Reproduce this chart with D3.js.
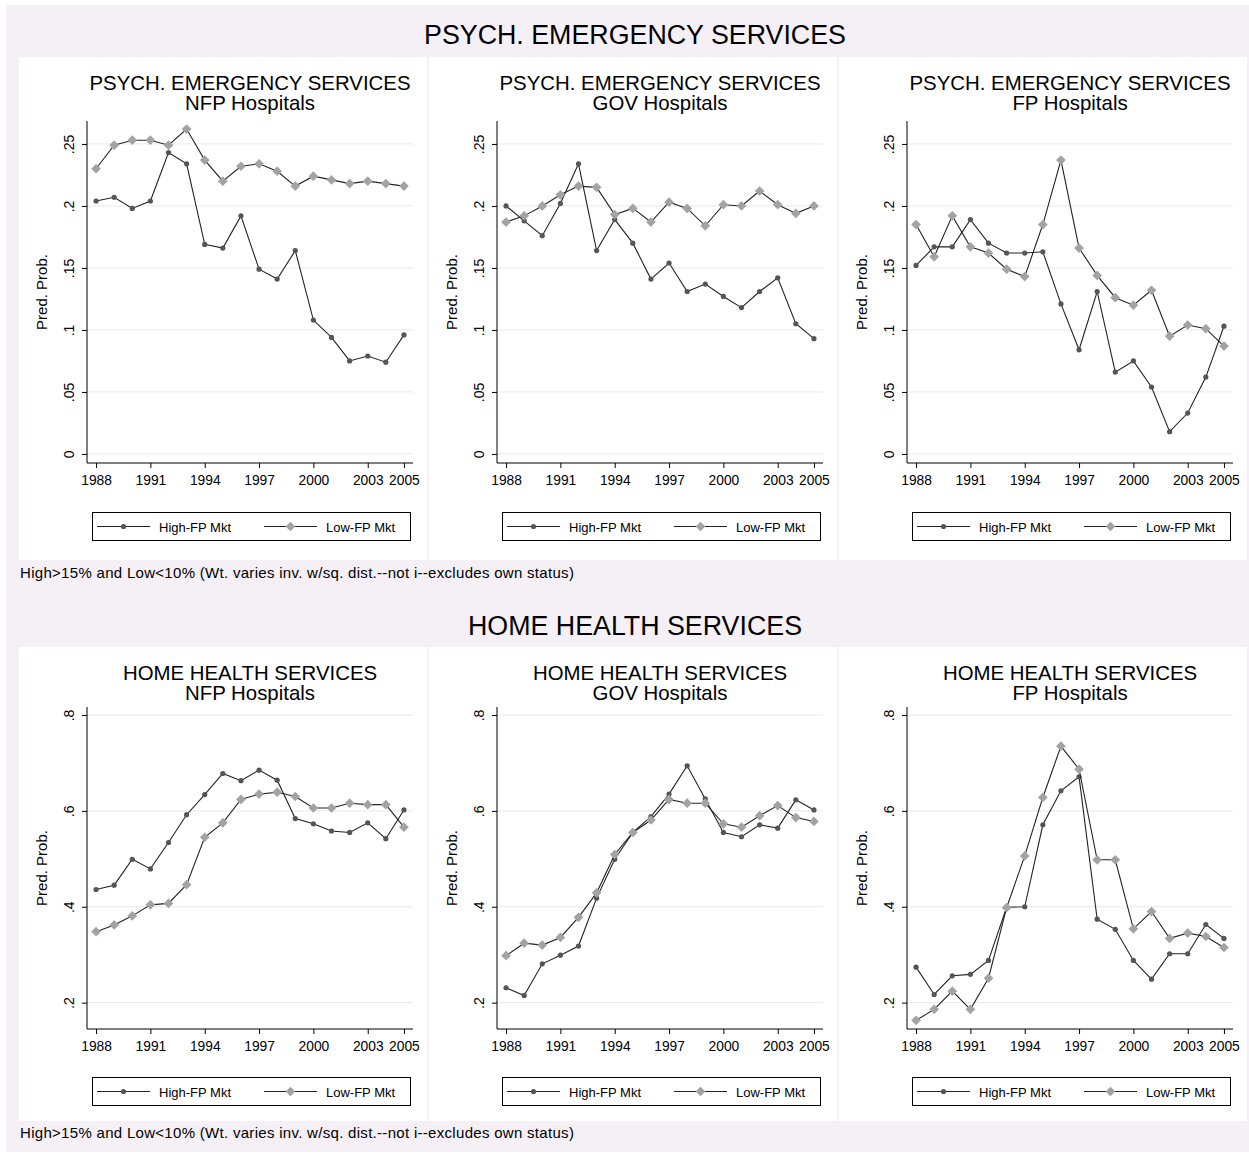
<!DOCTYPE html>
<html>
<head>
<meta charset="utf-8">
<script src="https://cdn.jsdelivr.net/npm/d3@7"></script>
<style>
  body { margin: 0; background: #fff; }
  text { font-family: "Liberation Sans", Arial, sans-serif; fill: #000; }
</style>
</head>
<body>
<svg id="chart" width="1249" height="1154"></svg>
<script>
// Data
var years = [1988, 1989, 1990, 1991, 1992, 1993, 1994, 1995, 1996, 1997, 1998, 1999, 2000, 2001, 2002, 2003, 2004, 2005];
var xTickYears = [1988, 1991, 1994, 1997, 2000, 2003, 2005];
var seriesNames = ["High-FP Mkt", "Low-FP Mkt"];
var hospitalTypes = ["NFP Hospitals", "GOV Hospitals", "FP Hospitals"];
var note = "High>15% and Low<10% (Wt. varies inv. w/sq. dist.--not i--excludes own status)";

var psychTicks = [0, 0.05, 0.1, 0.15, 0.2, 0.25];
var psychTickLabels = ["0", ".05", ".1", ".15", ".2", ".25"];
var homeTicks = [0.2, 0.4, 0.6, 0.8];
var homeTickLabels = [".2", ".4", ".6", ".8"];

var psychNfpHigh = [0.204, 0.207, 0.198, 0.204, 0.243, 0.234, 0.169, 0.166, 0.192, 0.149, 0.141, 0.164, 0.108, 0.094, 0.075, 0.079, 0.074, 0.096];
var psychNfpLow  = [0.230, 0.249, 0.253, 0.253, 0.249, 0.262, 0.237, 0.220, 0.232, 0.234, 0.228, 0.216, 0.224, 0.221, 0.218, 0.220, 0.218, 0.216];
var psychGovHigh = [0.200, 0.188, 0.176, 0.202, 0.234, 0.164, 0.189, 0.170, 0.141, 0.154, 0.131, 0.137, 0.127, 0.118, 0.131, 0.142, 0.105, 0.093];
var psychGovLow  = [0.187, 0.192, 0.200, 0.209, 0.216, 0.215, 0.193, 0.198, 0.187, 0.203, 0.198, 0.184, 0.201, 0.200, 0.212, 0.201, 0.194, 0.200];
var psychFpHigh  = [0.152, 0.167, 0.167, 0.189, 0.170, 0.162, 0.162, 0.163, 0.121, 0.084, 0.131, 0.066, 0.075, 0.054, 0.018, 0.033, 0.062, 0.103];
var psychFpLow   = [0.185, 0.159, 0.192, 0.167, 0.162, 0.149, 0.143, 0.185, 0.237, 0.166, 0.144, 0.126, 0.120, 0.132, 0.095, 0.104, 0.101, 0.087];

var homeNfpHigh = [0.436, 0.445, 0.499, 0.479, 0.534, 0.592, 0.634, 0.678, 0.663, 0.685, 0.664, 0.584, 0.573, 0.558, 0.555, 0.575, 0.542, 0.602];
var homeNfpLow  = [0.348, 0.362, 0.381, 0.404, 0.407, 0.446, 0.545, 0.575, 0.624, 0.635, 0.639, 0.630, 0.606, 0.606, 0.616, 0.613, 0.613, 0.566];
var homeGovHigh = [0.231, 0.215, 0.281, 0.299, 0.318, 0.418, 0.499, 0.555, 0.588, 0.635, 0.694, 0.625, 0.555, 0.546, 0.571, 0.564, 0.623, 0.602];
var homeGovLow  = [0.298, 0.324, 0.320, 0.336, 0.378, 0.429, 0.509, 0.555, 0.581, 0.624, 0.616, 0.616, 0.573, 0.566, 0.590, 0.611, 0.586, 0.578];
var homeFpHigh  = [0.274, 0.217, 0.256, 0.259, 0.288, 0.399, 0.400, 0.571, 0.642, 0.671, 0.374, 0.353, 0.288, 0.249, 0.302, 0.302, 0.363, 0.334];
var homeFpLow   = [0.163, 0.186, 0.224, 0.186, 0.251, 0.398, 0.506, 0.628, 0.735, 0.687, 0.498, 0.498, 0.354, 0.390, 0.334, 0.345, 0.338, 0.315];

// Layout
var svg = d3.select("#chart");
var panelX = [19, 429, 839], panelW = 408;
var plotLeft = 68, plotRight = 394;
var bg = "#f4f0f5";

var sections = [
    { title: "PSYCH. EMERGENCY SERVICES", top: 57, height: 503, titleY: 35, noteY: 578,
      plotTop: 64, plotBottom: 406, legendTop: 455, domain: [-0.0073, 0.2685],
      ticks: psychTicks, tickLabels: psychTickLabels,
      data: [[psychNfpHigh, psychNfpLow], [psychGovHigh, psychGovLow], [psychFpHigh, psychFpLow]] },
    { title: "HOME HEALTH SERVICES", top: 647, height: 474, titleY: 626, noteY: 1138,
      plotTop: 60, plotBottom: 382, legendTop: 430, domain: [0.145, 0.8167],
      ticks: homeTicks, tickLabels: homeTickLabels,
      data: [[homeNfpHigh, homeNfpLow], [homeGovHigh, homeGovLow], [homeFpHigh, homeFpLow]] }
];

svg.append("rect").attr("x", 6).attr("y", 5).attr("width", 1243).attr("height", 1147).attr("fill", bg);

var x = d3.scaleLinear().domain([1987.5, 2005.5]).range([plotLeft, plotRight]);
var diamond = d3.symbol().type(d3.symbolDiamond2).size(60);

function drawMarkers(g, pts, kind) {
    if (kind == 0) {
        g.selectAll("circle.m").data(pts).enter().append("circle")
            .attr("class", "m")
            .attr("cx", function (d) { return d[0]; })
            .attr("cy", function (d) { return d[1]; })
            .attr("r", 2.6)
            .attr("fill", "#555");
    } else {
        g.selectAll("path.m").data(pts).enter().append("path")
            .attr("class", "m")
            .attr("d", diamond)
            .attr("transform", function (d) { return "translate(" + d[0] + "," + d[1] + ")"; })
            .attr("fill", "#a3a3a3");
    }
}

sections.forEach(function (sec) {
    svg.append("text").attr("x", 635).attr("y", sec.titleY + 9)
        .attr("text-anchor", "middle").style("font-size", "26.8px").text(sec.title);
    svg.append("text").attr("x", 20).attr("y", sec.noteY)
        .style("font-size", "15px").style("letter-spacing", "0.3px").text(note);

    var y = d3.scaleLinear().domain(sec.domain).range([sec.plotBottom, sec.plotTop]);

    sec.data.forEach(function (pair, pi) {
        var g = svg.append("g").attr("transform", "translate(" + panelX[pi] + "," + sec.top + ")");
        g.append("rect").attr("width", panelW).attr("height", sec.height).attr("fill", "#fff");

        // Panel title
        var cx = (plotLeft + plotRight) / 2;
        g.append("text").attr("x", cx).attr("y", 33).attr("text-anchor", "middle")
            .style("font-size", "20.4px").text(sec.title);
        g.append("text").attr("x", cx).attr("y", 53).attr("text-anchor", "middle")
            .style("font-size", "20.4px").text(hospitalTypes[pi]);

        // Grid
        g.selectAll("line.grid").data(sec.ticks).enter().append("line")
            .attr("class", "grid")
            .attr("x1", plotLeft).attr("x2", plotRight)
            .attr("y1", function (d) { return y(d); }).attr("y2", function (d) { return y(d); })
            .attr("stroke", "#e8e8e8").attr("stroke-width", 1);

        // Y axis
        var yAxis = d3.axisLeft(y).tickValues(sec.ticks).tickSize(5)
            .tickFormat(function (d, i) { return sec.tickLabels[i]; });
        var ya = g.append("g").attr("transform", "translate(" + plotLeft + ",0)").call(yAxis);
        ya.select(".domain").attr("d", "M0," + sec.plotTop + "V" + sec.plotBottom).attr("stroke", "#000");
        ya.selectAll(".tick line").attr("stroke", "#000");
        ya.selectAll(".tick text")
            .attr("x", null).attr("dy", null)
            .attr("transform", "translate(-13,0) rotate(-90)")
            .attr("text-anchor", "middle")
            .style("font-size", "14px").style("font-family", null);

        g.append("text")
            .attr("transform", "translate(" + (plotLeft - 40) + "," + ((sec.plotTop + sec.plotBottom) / 2) + ") rotate(-90)")
            .attr("text-anchor", "middle").style("font-size", "15px").text("Pred. Prob.");

        // X axis
        var xAxis = d3.axisBottom(x).tickValues(xTickYears).tickSize(5).tickFormat(d3.format("d"));
        var xa = g.append("g").attr("transform", "translate(0," + sec.plotBottom + ")").call(xAxis);
        xa.select(".domain").attr("d", "M" + plotLeft + ",0H" + plotRight).attr("stroke", "#000");
        xa.selectAll(".tick line").attr("stroke", "#000");
        xa.selectAll(".tick text").attr("y", 12).attr("dy", "0.71em")
            .style("font-size", "13.8px").style("font-family", null);

        // Series
        var line = d3.line()
            .x(function (d, i) { return x(years[i]); })
            .y(function (d) { return y(d); });
        pair.forEach(function (vals, si) {
            g.append("path").datum(vals).attr("d", line)
                .attr("fill", "none").attr("stroke", "#222").attr("stroke-width", 1.1);
            var pts = vals.map(function (v, i) { return [x(years[i]), y(v)]; });
            drawMarkers(g.append("g"), pts, si);
        });

        // Legend
        var lx = cx - 158, ly = sec.legendTop;
        var lg = g.append("g").attr("transform", "translate(" + lx + "," + ly + ")");
        lg.append("rect").attr("x", 0.5).attr("y", 0.5).attr("width", 318).attr("height", 28)
            .attr("fill", "#fff").attr("stroke", "#000").attr("stroke-width", 1);
        seriesNames.forEach(function (name, si) {
            var ox = 5 + si * 167;
            lg.append("line").attr("x1", ox).attr("x2", ox + 53).attr("y1", 14.5).attr("y2", 14.5)
                .attr("stroke", "#222").attr("stroke-width", 1);
            drawMarkers(lg.append("g"), [[ox + 26.5, 14.5]], si);
            lg.append("text").attr("x", ox + 62).attr("y", 19.5)
                .style("font-size", "13px").text(name);
        });
    });
});
</script>
</body>
</html>
